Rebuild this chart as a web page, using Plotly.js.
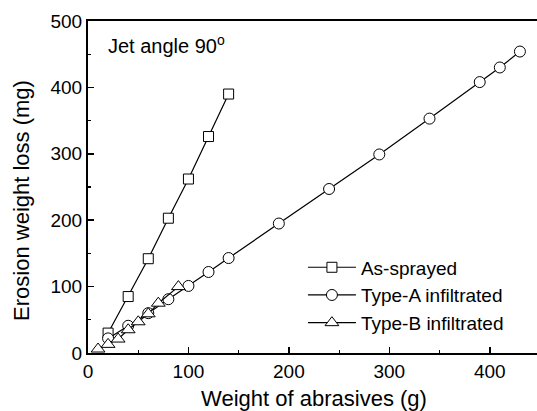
<!DOCTYPE html>
<html>
<head>
<meta charset="utf-8">
<script src="https://cdn.plot.ly/plotly-3.0.1.min.js"></script>
<style>
html, body { margin: 0; padding: 0; overflow: hidden; background: #fff; }
#chart { width: 550px; height: 411px; }
</style>
</head>
<body>
<div id="chart"></div>
<script>
// Data
const asSprayedX = [20, 40, 60, 80, 100, 120, 140];
const asSprayedY = [30, 85, 142, 203, 262, 326, 390];

const typeAX = [20, 40, 60, 80, 100, 120, 140, 190, 240, 290, 340, 390, 410, 430];
const typeAY = [22, 41, 60, 81, 101, 122, 143, 195, 247, 299, 353, 408, 430, 454];

const typeBX = [10, 20, 30, 40, 50, 60, 70, 90];
const typeBY = [6, 13, 21, 35, 47, 59, 75, 100];

const seriesNames = ["As-sprayed", "Type-A infiltrated", "Type-B infiltrated"];
const xTitle = "Weight of abrasives (g)";
const yTitle = "Erosion weight loss (mg)";
const noteText = "Jet angle 90<sup>o</sup>";

const font = "Liberation Sans, Arial, sans-serif";
function trace(x, y, name, symbol, size) {
  return {
    x: x, y: y, name: name, type: "scatter", mode: "lines+markers",
    line: {color: "#000", width: 1.2},
    marker: {symbol: symbol, size: size, color: "#fff", line: {color: "#000", width: 1}},
    cliponaxis: false
  };
}
const data = [
  trace(asSprayedX, asSprayedY, seriesNames[0], "square", 10),
  trace(typeAX, typeAY, seriesNames[1], "circle", 11),
  trace(typeBX, typeBY, seriesNames[2], "triangle-up", 12)
];

const axisCommon = {
  showgrid: false, zeroline: false, showline: true, linecolor: "#000", linewidth: 2,
  ticks: "inside", ticklen: 6, tickwidth: 1.5, tickcolor: "#000",
  tickfont: {family: font, size: 19, color: "#000"},
  minor: {ticks: "inside", ticklen: 3, tickwidth: 1.2, tickcolor: "#000", dtick: 50}
};

const layout = {
  width: 550, height: 411,
  margin: {l: 88, r: 10, t: 21, b: 58},
  paper_bgcolor: "#fff", plot_bgcolor: "#fff",
  showlegend: true,
  xaxis: Object.assign({}, axisCommon, {
    range: [0, 450], dtick: 100, tick0: 0, mirror: true,
    title: {text: xTitle, font: {family: font, size: 22, color: "#000"}, standoff: 12}
  }),
  yaxis: Object.assign({}, axisCommon, {
    range: [0, 500], dtick: 100, tick0: 0, mirror: true
  }),
  legend: {
    x: 0.4755, y: 0.315, xanchor: "left", yanchor: "top",
    font: {family: font, size: 19, color: "#000"},
    bgcolor: "rgba(0,0,0,0)", borderwidth: 0, itemwidth: 48,
    tracegroupgap: 0
  },
  annotations: [{
    text: noteText, xref: "paper", yref: "paper", x: 0.04, y: 0.93,
    xanchor: "left", yanchor: "middle", showarrow: false,
    font: {family: font, size: 20, color: "#000"}
  }, {
    text: yTitle, xref: "paper", yref: "paper", x: -0.146, y: 0.458,
    xanchor: "center", yanchor: "middle", showarrow: false, textangle: -90,
    font: {family: font, size: 22, color: "#000"}
  }]
};

Plotly.newPlot("chart", data, layout, {displayModeBar: false, staticPlot: true});
</script>
</body>
</html>
